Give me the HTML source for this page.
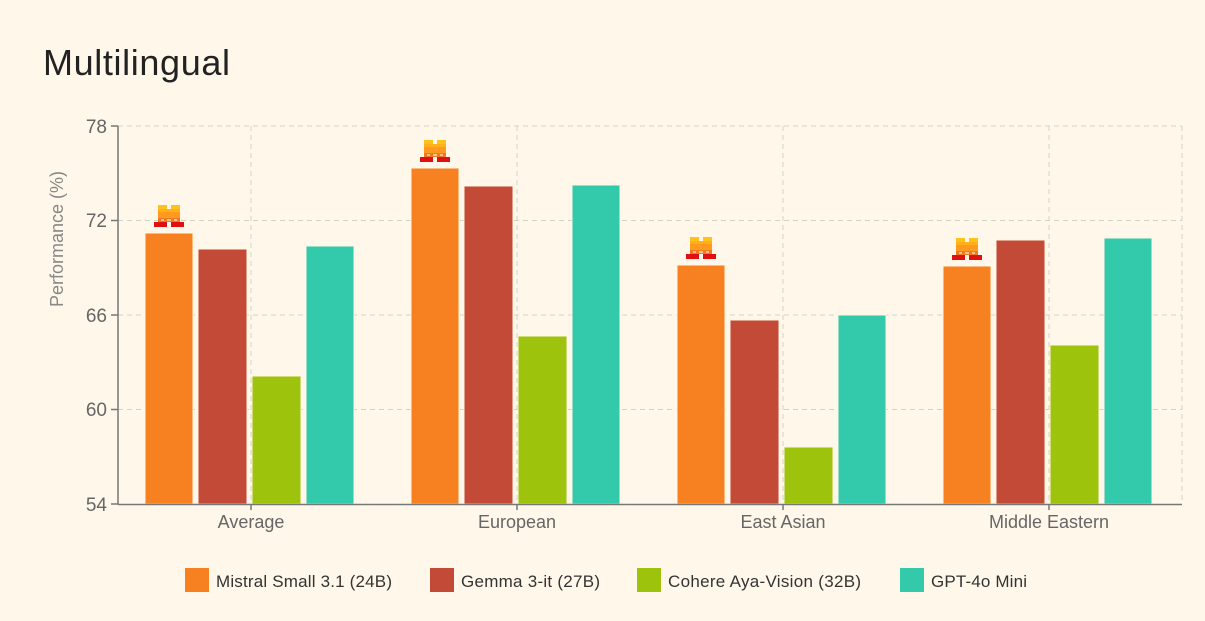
<!DOCTYPE html>
<html><head><meta charset="utf-8"><style>
html,body{margin:0;padding:0;background:#fff8ea;}
svg{display:block;font-family:"Liberation Sans",sans-serif;}
</style></head><body>
<svg width="1205" height="621" viewBox="0 0 1205 621" xmlns="http://www.w3.org/2000/svg">
<defs>
<g id="ic">
<rect x="4" y="0" width="9" height="7" fill="#ffc21a"/>
<rect x="17" y="0" width="9" height="7" fill="#ffc21a"/>
<rect x="4" y="4" width="22" height="3" fill="#ffb01a"/>
<rect x="4" y="7" width="22" height="6" fill="#ff9a1f"/>
<rect x="4" y="13" width="22" height="4" fill="#f07a22"/>
<rect x="7" y="14" width="3" height="2" fill="#f8c090"/>
<rect x="13" y="14" width="4" height="2" fill="#f8c090"/>
<rect x="20" y="14" width="3" height="2" fill="#f8c090"/>
<rect x="0" y="17" width="13" height="5" fill="#e01010"/>
<rect x="17" y="17" width="13" height="5" fill="#e01010"/>
</g>
</defs>
<rect width="1205" height="621" fill="#fff8ea"/>
<text x="43" y="75" font-size="36" fill="#222" textLength="187">Multilingual</text>
<g stroke="#cfd3c4" stroke-width="1" stroke-dasharray="5,4">
<line x1="118" y1="126" x2="1182" y2="126"/>
<line x1="118" y1="220.5" x2="1182" y2="220.5"/>
<line x1="118" y1="315" x2="1182" y2="315"/>
<line x1="118" y1="409.5" x2="1182" y2="409.5"/>
<line x1="251" y1="126" x2="251" y2="504"/>
<line x1="517" y1="126" x2="517" y2="504"/>
<line x1="783" y1="126" x2="783" y2="504"/>
<line x1="1049" y1="126" x2="1049" y2="504"/>
<line x1="1182" y1="126" x2="1182" y2="504"/>
</g>
<g stroke="#fff3e0" stroke-width="1">
<rect x="145" y="233" width="48" height="271" fill="#f78020"/>
<rect x="198" y="249" width="49" height="255" fill="#c34a36"/>
<rect x="252" y="376" width="49" height="128" fill="#9dc30c"/>
<rect x="306" y="246" width="48" height="258" fill="#33c9ab"/>
<rect x="411" y="168" width="48" height="336" fill="#f78020"/>
<rect x="464" y="186" width="49" height="318" fill="#c34a36"/>
<rect x="518" y="336" width="49" height="168" fill="#9dc30c"/>
<rect x="572" y="185" width="48" height="319" fill="#33c9ab"/>
<rect x="677" y="265" width="48" height="239" fill="#f78020"/>
<rect x="730" y="320" width="49" height="184" fill="#c34a36"/>
<rect x="784" y="447" width="49" height="57" fill="#9dc30c"/>
<rect x="838" y="315" width="48" height="189" fill="#33c9ab"/>
<rect x="943" y="266" width="48" height="238" fill="#f78020"/>
<rect x="996" y="240" width="49" height="264" fill="#c34a36"/>
<rect x="1050" y="345" width="49" height="159" fill="#9dc30c"/>
<rect x="1104" y="238" width="48" height="266" fill="#33c9ab"/>
</g>
<use href="#ic" x="154" y="205"/>
<use href="#ic" x="420" y="140"/>
<use href="#ic" x="686" y="237"/>
<use href="#ic" x="952" y="238"/>
<g stroke="#777" stroke-width="1.5">
<line x1="118" y1="126" x2="118" y2="504"/>
<line x1="118" y1="504.5" x2="1182" y2="504.5"/>
<line x1="111" y1="126" x2="118" y2="126"/>
<line x1="111" y1="220.5" x2="118" y2="220.5"/>
<line x1="111" y1="315" x2="118" y2="315"/>
<line x1="111" y1="409.5" x2="118" y2="409.5"/>
<line x1="111" y1="504" x2="118" y2="504"/>
<line x1="251" y1="504" x2="251" y2="510"/>
<line x1="517" y1="504" x2="517" y2="510"/>
<line x1="783" y1="504" x2="783" y2="510"/>
<line x1="1049" y1="504" x2="1049" y2="510"/>
</g>
<g font-size="19" fill="#666" text-anchor="end">
<text x="107" y="133">78</text>
<text x="107" y="227">72</text>
<text x="107" y="322">66</text>
<text x="107" y="416">60</text>
<text x="107" y="511">54</text>
</g>
<text transform="translate(63,239) rotate(-90)" font-size="18" fill="#888" text-anchor="middle">Performance (%)</text>
<g font-size="18" fill="#666" text-anchor="middle">
<text x="251" y="528">Average</text>
<text x="517" y="528">European</text>
<text x="783" y="528">East Asian</text>
<text x="1049" y="528">Middle Eastern</text>
</g>
<g font-size="17" fill="#333">
<rect x="185" y="568" width="24" height="24" fill="#f78020"/>
<text x="216" y="587" textLength="176">Mistral Small 3.1 (24B)</text>
<rect x="430" y="568" width="24" height="24" fill="#c34a36"/>
<text x="461" y="587" textLength="139">Gemma 3-it (27B)</text>
<rect x="637" y="568" width="24" height="24" fill="#9dc30c"/>
<text x="668" y="587" textLength="193">Cohere Aya-Vision (32B)</text>
<rect x="900" y="568" width="24" height="24" fill="#33c9ab"/>
<text x="931" y="587" textLength="96">GPT-4o Mini</text>
</g>
</svg>
</body></html>
